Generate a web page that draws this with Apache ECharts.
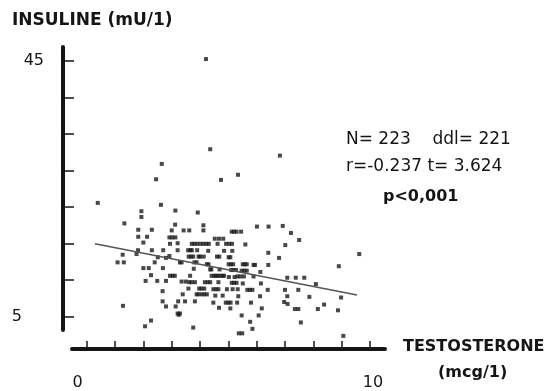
<!DOCTYPE html>
<html><head><meta charset="utf-8">
<script src="https://cdn.jsdelivr.net/npm/echarts@6/dist/echarts.min.js"></script>
<style>html,body{margin:0;padding:0;background:#fff}#c{width:550px;height:391px}</style>
</head><body><div id="c"></div>
<script>
// Testosterone (mcg/l) vs insuline (mU/l)
const testosterone = [4.21,4.36,2.65,2.45,4.74,5.34,6.82,0.39,2.62,1.93,3.13,3.92,1.93,1.33,3.12,4.12,6.01,6.42,6.92,1.82,2.30,3.00,3.42,3.62,4.12,5.12,5.29,5.45,7.21,1.82,2.13,2.92,3.13,4.52,4.82,7.50,2.00,3.21,3.71,3.90,4.12,4.31,4.62,4.92,5.13,5.60,7.01,1.81,2.30,2.70,3.21,3.58,3.71,3.90,4.29,4.85,5.14,6.41,9.62,1.27,1.76,2.51,2.92,3.60,3.76,4.00,4.13,4.60,5.01,6.79,1.09,1.31,2.40,3.29,3.88,4.24,5.01,5.17,5.51,5.65,5.89,6.41,5.94,8.90,2.00,2.19,2.69,3.78,4.36,4.69,5.10,5.27,5.47,5.65,6.13,2.27,2.94,3.11,3.65,4.41,4.56,4.71,4.85,5.02,5.22,5.42,5.55,5.89,7.08,7.38,7.68,2.08,2.49,2.80,3.35,3.62,3.82,4.17,4.36,4.65,5.12,5.29,5.51,6.15,8.09,3.59,3.97,4.15,4.47,4.65,5.15,5.33,5.67,5.85,2.68,6.39,7.00,7.47,3.39,3.88,4.06,4.24,4.54,4.80,5.35,6.12,7.08,7.86,8.98,2.68,3.23,3.47,3.82,4.47,4.91,5.08,5.31,5.80,6.97,7.09,8.38,1.28,2.80,3.14,4.67,5.07,6.18,7.35,7.47,8.16,8.87,3.21,3.29,5.47,6.07,2.27,5.77,7.56,2.06,3.76,5.85,5.37,5.49,9.06,
  3.66,3.03,4.50,4.63,5.20,5.18,4.56,3.95,4.15,4.05,5.58,5.09,5.20,3.68,3.95,5.56,5.76,5.00,5.03,3.80,4.02,4.22,3.25,5.32,3.70,4.27,5.07,3.02,4.30,3.80,4.67,4.68,3.35,2.94,2.80,4.40,4.80,3.50,4.95];
const insuline = [45.3,31.2,28.9,26.5,26.4,27.2,30.2,22.8,22.5,21.5,21.6,21.3,20.6,19.6,19.4,19.3,19.1,19.1,19.2,18.6,18.6,18.5,18.5,18.5,18.5,18.3,18.3,18.3,18.1,17.5,17.5,17.4,17.4,17.2,17.2,17.0,16.6,16.5,16.4,16.4,16.4,16.4,16.4,16.4,16.4,16.3,16.2,15.4,15.4,15.4,15.4,15.4,15.4,15.4,15.3,15.3,15.3,15.0,14.8,14.7,14.8,14.3,14.5,14.4,14.4,14.4,14.4,14.4,14.3,14.2,13.5,13.5,13.5,13.5,13.5,13.2,13.2,13.2,13.2,13.2,13.1,13.1,13.1,12.9,12.6,12.6,12.6,12.5,12.4,12.4,12.3,12.3,12.2,12.2,12.0,11.5,11.4,11.4,11.4,11.4,11.4,11.4,11.4,11.2,11.2,11.3,11.3,11.3,11.1,11.1,11.1,10.6,10.6,10.6,10.5,10.4,10.4,10.4,10.4,10.4,10.3,10.3,10.2,10.2,10.1,9.4,9.4,9.4,9.3,9.3,9.3,9.3,9.2,9.2,9.0,9.2,9.2,9.2,8.5,8.5,8.5,8.5,8.3,8.3,8.2,8.2,8.2,8.1,8.0,7.4,7.4,7.4,7.4,7.2,7.2,7.2,7.2,7.2,7.3,7.0,6.9,6.7,6.6,6.6,6.4,6.3,6.3,6.2,6.2,6.2,6.0,5.5,5.5,5.2,5.2,4.4,4.2,4.1,3.5,3.3,3.1,2.4,2.4,2.0,
  15.4,11.4,11.4,11.4,10.3,12.3,9.3,8.5,8.5,9.4,13.2,13.2,18.3,14.4,14.4,12.2,9.2,7.2,16.4,16.4,16.4,16.4,5.3,11.3,10.4,10.4,14.3,17.4,13.2,13.5,17.2,14.4,13.5,16.4,14.2,12.4,11.4,10.5,9.3];
// regression line end points
const fitX = [0.29, 9.54];
const fitY = [16.4, 8.4];
// axis ticks and labels
const xTicks = [0,1,2,3,4,5,6,7,8,9,10];
const xLabels = [0, 10];
const yTicks = [5, 10.714, 16.429, 22.143, 27.857, 33.571, 39.286, 45];
const yLabels = [5, 45];

const points = testosterone.map((t, i) => [t, insuline[i]]);
const fit = fitX.map((x, i) => [x, fitY[i]]);
const ink = '#151515';
const font = 'DejaVu Sans';

const chart = echarts.init(document.getElementById('c'), null, {renderer: 'canvas'});
chart.setOption({
  backgroundColor: '#fff',
  animation: false,
  title: [
    {text: 'INSULINE (mU/1)', left: 12, top: 12, padding: 0,
     textStyle: {fontFamily: font, fontSize: 17, fontWeight: 'bold', color: ink}},
    {text: 'TESTOSTERONE', left: 403, top: 339, padding: 0,
     textStyle: {fontFamily: font, fontSize: 16, fontWeight: 'bold', color: ink}},
    {text: '(mcg/1)', left: 438, top: 365, padding: 0,
     textStyle: {fontFamily: font, fontSize: 16, fontWeight: 'bold', color: ink}},
    {text: 'N= 223    ddl= 221', left: 346, top: 131, padding: 0,
     textStyle: {fontFamily: font, fontSize: 17, fontWeight: 'normal', color: ink}},
    {text: 'r=-0.237 t= 3.624', left: 346, top: 158, padding: 0,
     textStyle: {fontFamily: font, fontSize: 17, fontWeight: 'normal', color: ink}},
    {text: 'p<0,001', left: 383, top: 189, padding: 0,
     textStyle: {fontFamily: font, fontSize: 16, fontWeight: 'bold', color: ink}}
  ],
  grid: {left: 72, right: 165, top: 47, bottom: 61},
  xAxis: {
    type: 'value', min: -0.519, max: 10.53, offset: 19,
    splitLine: {show: false},
    axisLine: {onZero: false, lineStyle: {color: ink, width: 4}},
    axisTick: {inside: true, length: 8, customValues: xTicks, lineStyle: {color: ink, width: 1.5}},
    axisLabel: {
      customValues: xLabels, margin: 26, color: ink, fontFamily: font, fontSize: 16,
      formatter: v => v === 0 ? '{a|0}' : '{b|10}',
      rich: {a: {padding: [0, 18, 0, 0], fontFamily: font, fontSize: 16, color: ink},
             b: {padding: [0, 0, 0, 6], fontFamily: font, fontSize: 16, color: ink}}
    }
  },
  yAxis: {
    type: 'value', min: 2.92, max: 47.19, offset: 9,
    splitLine: {show: false},
    axisLine: {show: true, onZero: false, lineStyle: {color: ink, width: 4}},
    axisTick: {show: true, inside: true, length: 11, customValues: yTicks, lineStyle: {color: ink, width: 1.5}},
    axisLabel: {
      customValues: yLabels, margin: 19, color: ink, fontFamily: font, fontSize: 16,
      formatter: v => Math.round(v) === 5 ? '{a|5}' : '{b|45}',
      rich: {a: {padding: [0, 22, 0, 0], fontFamily: font, fontSize: 16, color: ink},
             b: {fontFamily: font, fontSize: 16, color: ink}}
    }
  },
  series: [
    {type: 'line', data: fit, symbol: 'none', clip: false, z: 3,
     lineStyle: {color: '#555', width: 1.5}},
    {type: 'scatter', data: points, symbol: 'rect', symbolSize: 4, clip: false, z: 2,
     itemStyle: {color: '#1a1a1a'}}
  ]
});
</script></body></html>
